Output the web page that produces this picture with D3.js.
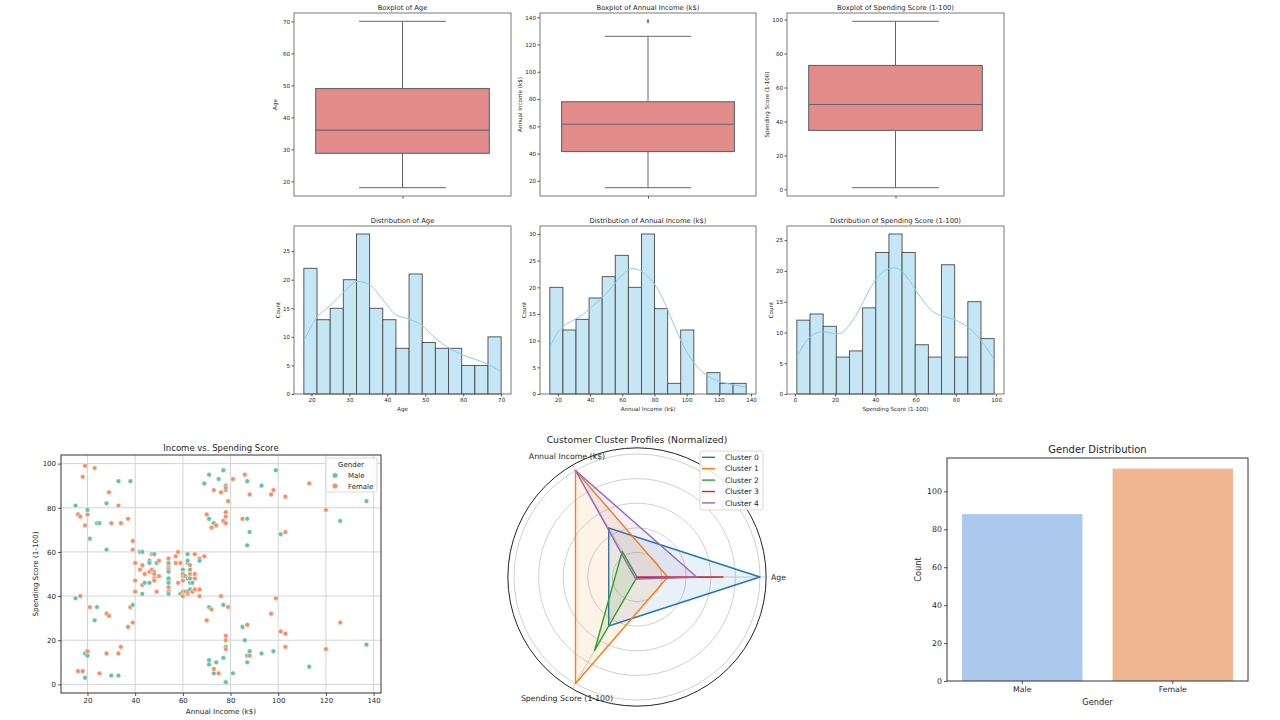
<!DOCTYPE html>
<html>
<head>
<meta charset="utf-8">
<script src="https://cdn.jsdelivr.net/npm/d3@7"></script>
<style>
  body { margin: 0; background: #fff; }
  svg { display: block; font-family: "DejaVu Sans", sans-serif; }
</style>
</head>
<body>
<svg id="fig" width="1280" height="720"></svg>
<script>
// ---- data ------------------------------------------------------------------
const ageBox = [18, 28.75, 36, 49, 70];
const incomeBox = [15, 41.5, 61.5, 78, 126];
const incomeFliers = [137];
const spendBox = [1, 34.75, 50, 73, 99];

const ageCounts = [22, 13, 15, 20, 28, 15, 13, 8, 21, 9, 8, 8, 5, 5, 10];
const incomeCounts = [20, 12, 14, 18, 22, 26, 20, 30, 16, 2, 12, 0, 4, 2, 2];
const spendCounts = [12, 13, 11, 6, 7, 14, 23, 26, 23, 8, 6, 21, 6, 15, 9];

const kdeAge = [[18, 9.3], [21.3, 13.3], [24.8, 15.4], [28.3, 17.7], [32.2, 19.7], [35.2, 19.2], [38.7, 16.6],
  [42.2, 13.9], [45.7, 13.1], [48.7, 12.2], [52.6, 9.8], [56.1, 8.1], [59.6, 6.9], [63, 6.1], [66.5, 5.2], [70, 3.9]];
const kdeIncome = [[15, 8.7], [19, 11.2], [24, 12.8], [30, 13.9], [36, 15.0], [42, 16.6], [48, 18.2], [54, 20.2],
  [60, 22.3], [66, 23.5], [70, 23.3], [75, 22.3], [80, 20.6], [85, 18.0], [90, 14.5], [95, 11.0], [100, 7.9],
  [105, 5.7], [110, 4.1], [116, 2.9], [122, 2.2], [128, 1.8], [133, 1.5], [137, 1.3]];
const kdeSpend = [[1, 5.9], [4, 7.8], [7, 9.1], [10, 9.8], [13.5, 10.1], [17, 10.0], [20, 9.8], [23, 9.9], [26, 10.8],
  [30, 12.6], [34, 15.0], [38, 17.5], [42, 19.3], [46, 20.3], [49.6, 20.5], [53, 20.0], [57, 18.4], [61, 16.4],
  [65, 14.6], [69, 13.3], [74, 12.6], [79, 12.1], [84, 11.3], [88, 10.3], [92, 8.9], [96, 7.1], [99, 5.5]];

const genderCodes = "MMFFFFFFMF" + "MFFFMMFMMF" + "MMFMFMFMFF" + "MFMMFFFFFF" + "FMMFFFFFFF" +
  "FMFMFMFMFM" + "MMFFMMFFMF" + "MFFFMMFMFF" + "MMMFFMFFFF" + "FMMFFMFFMM" +
  "FFMMMFFMMM" + "MFFMFFFFFF" + "MFFMFFMMMM" + "MMFFMFFMMF" + "FMFFMMMFFM" +
  "MMFFFFMFMF" + "FFMFMFMFFM" + "MMMMFFMMMM" + "FFMFFMFMFF" + "FFMFFFFMMM";
const income = [15, 15, 16, 16, 17, 17, 18, 18, 19, 19, 19, 19, 20, 20, 20, 20, 21, 21, 23, 23,
  24, 24, 25, 25, 28, 28, 28, 28, 29, 29, 30, 30, 33, 33, 33, 33, 34, 34, 37, 37,
  38, 38, 39, 39, 39, 39, 40, 40, 40, 40, 42, 42, 43, 43, 43, 43, 44, 44, 46, 46,
  46, 46, 47, 47, 48, 48, 48, 48, 48, 48, 49, 49, 50, 50, 54, 54, 54, 54, 54, 54,
  54, 54, 54, 54, 54, 54, 57, 57, 58, 58, 59, 59, 60, 60, 60, 60, 60, 60, 61, 61,
  62, 62, 62, 62, 62, 62, 63, 63, 63, 63, 63, 63, 64, 64, 65, 65, 65, 65, 67, 67,
  67, 67, 69, 69, 70, 70, 71, 71, 71, 71, 71, 71, 72, 72, 73, 73, 73, 73, 74, 74,
  75, 75, 76, 76, 77, 77, 77, 77, 78, 78, 78, 78, 78, 78, 78, 78, 78, 78, 78, 78,
  79, 79, 81, 81, 85, 85, 86, 86, 87, 87, 87, 87, 87, 87, 88, 88, 88, 88, 93, 93,
  97, 97, 98, 98, 99, 99, 101, 101, 103, 103, 103, 103, 113, 113, 120, 120, 126, 126, 137, 137];
const spending = [39, 81, 6, 77, 40, 76, 6, 94, 3, 72, 14, 99, 15, 77, 13, 79, 35, 66, 29, 98,
  35, 73, 5, 73, 14, 82, 32, 61, 31, 87, 4, 73, 4, 92, 14, 81, 17, 73, 26, 75,
  35, 92, 36, 61, 28, 65, 55, 47, 42, 42, 52, 60, 54, 60, 45, 41, 50, 46, 51, 46,
  56, 55, 52, 59, 51, 59, 50, 48, 59, 47, 55, 42, 49, 56, 47, 54, 53, 48, 52, 42,
  51, 55, 41, 44, 57, 46, 58, 55, 60, 46, 55, 41, 49, 40, 42, 52, 47, 50, 42, 49,
  41, 48, 59, 55, 56, 42, 50, 46, 43, 48, 52, 54, 42, 46, 48, 50, 43, 59, 43, 57,
  56, 40, 58, 91, 29, 77, 35, 95, 11, 75, 9, 75, 34, 71, 5, 88, 7, 73, 10, 72,
  5, 93, 40, 87, 12, 97, 36, 74, 22, 90, 17, 88, 20, 76, 16, 89, 1, 78, 1, 73,
  35, 83, 5, 93, 26, 75, 20, 95, 27, 63, 13, 75, 10, 92, 13, 86, 15, 69, 14, 90,
  32, 86, 15, 88, 39, 97, 24, 68, 17, 85, 23, 69, 8, 91, 16, 79, 28, 74, 18, 83];

const radarAxes = ["Age", "Annual Income (k$)", "Spending Score (1-100)"];
const clusterNames = ["Cluster 0", "Cluster 1", "Cluster 2", "Cluster 3", "Cluster 4"];
const clusterProfiles = [
  [1.0, 0.46, 0.46],
  [0.25, 1.0, 1.0],
  [0.0, 0.24, 0.69],
  [0.70, 0.0, 0.01],
  [0.485, 1.0, 0.02]
];

const genders = ["Male", "Female"];
const genderCounts = [88, 112];

// ---- helpers ----------------------------------------------------------------
const svg = d3.select("#fig");
const FONT = '"DejaVu Sans", sans-serif';
const INK = "#262626";

function styleAxis(sel, fs, tickCol) {
  sel.attr("font-family", FONT).attr("font-size", fs);
  sel.select(".domain").remove();
  sel.selectAll(".tick line").attr("stroke", tickCol || INK).attr("stroke-width", 0.8);
  sel.selectAll(".tick text").attr("fill", INK);
}

function frame(g, x0, y0, x1, y1, col, w) {
  g.append("rect").attr("x", x0).attr("y", y0).attr("width", x1 - x0).attr("height", y1 - y0)
    .attr("fill", "none").attr("stroke", col).attr("stroke-width", w || 1);
}

function label(g, x, y, txt, fs, rot, anchor) {
  const t = g.append("text").attr("x", x).attr("y", y).attr("font-size", fs).attr("fill", INK)
    .attr("text-anchor", anchor || "middle").text(txt);
  if (rot) t.attr("transform", `rotate(-90,${x},${y})`);
  return t;
}

// ---- top row: boxplots -----------------------------------------------------
const cols = [[294, 511], [540, 756], [787, 1004]];

function boxPanel(col, spec) {
  const [x0, x1] = col, y0 = 13, y1 = 196;
  const g = svg.append("g");
  const x = d3.scaleLinear().domain([-0.5, 0.5]).range([x0, x1]);
  const y = d3.scaleLinear().domain(spec.dom).range([y1, y0]);
  const [lo, q1, med, q3, hi] = spec.box;
  const c = "#666";

  g.append("line").attr("x1", x(0)).attr("x2", x(0)).attr("y1", y(q1)).attr("y2", y(lo)).attr("stroke", c);
  g.append("line").attr("x1", x(0)).attr("x2", x(0)).attr("y1", y(q3)).attr("y2", y(hi)).attr("stroke", c);
  [lo, hi].forEach((v) => g.append("line").attr("x1", x(-0.2)).attr("x2", x(0.2))
    .attr("y1", y(v)).attr("y2", y(v)).attr("stroke", c));
  g.append("rect").attr("x", x(-0.4)).attr("y", y(q3)).attr("width", x(0.4) - x(-0.4))
    .attr("height", y(q1) - y(q3)).attr("fill", "#e28c8c").attr("stroke", c).attr("stroke-width", 1.1);
  g.append("line").attr("x1", x(-0.4)).attr("x2", x(0.4)).attr("y1", y(med)).attr("y2", y(med))
    .attr("stroke", c).attr("stroke-width", 1.1);
  g.selectAll(".flier").data(spec.fliers || []).join("path").attr("class", "flier")
    .attr("d", d3.symbol(d3.symbolDiamond, 9)).attr("transform", (d) => `translate(${x(0)},${y(d)}) scale(0.7,1)`)
    .attr("fill", c);

  g.append("g").attr("transform", `translate(${x0},0)`)
    .call(d3.axisLeft(y).tickValues(spec.ticks).tickSize(2.5).tickPadding(1.5)).call(styleAxis, 5.6);
  g.append("g").attr("transform", `translate(0,${y1})`)
    .call(d3.axisBottom(x).tickValues([0]).tickSize(2.5).tickFormat("")).call(styleAxis, 5.6);
  frame(g, x0, y0, x1, y1, "#6a6a6a", 0.9);
  label(g, (x0 + x1) / 2, 10.3, spec.title, 6.8);
  label(g, x0 + spec.yl, (y0 + y1) / 2, spec.ylabel, 5.6, true);
}

boxPanel(cols[0], { box: ageBox, dom: [15.4, 72.6], ticks: d3.range(20, 71, 10), title: "Boxplot of Age", ylabel: "Age", yl: -17.5 });
boxPanel(cols[1], { box: incomeBox, fliers: incomeFliers, dom: [8.9, 143.1], ticks: d3.range(20, 141, 20),
  title: "Boxplot of Annual Income (k$)", ylabel: "Annual Income (k$)", yl: -18 });
boxPanel(cols[2], { box: spendBox, dom: [-3.9, 103.9], ticks: d3.range(0, 101, 20),
  title: "Boxplot of Spending Score (1-100)", ylabel: "Spending Score (1-100)", yl: -18 });

// ---- second row: histograms -------------------------------------------------
function histPanel(col, spec) {
  const [x0, x1] = col, y0 = 226, y1 = 394;
  const g = svg.append("g");
  const x = d3.scaleLinear().domain(spec.dom).range([x0, x1]);
  const y = d3.scaleLinear().domain([0, d3.max(spec.counts) * 1.05]).range([y1, y0]);
  const w = (spec.range[1] - spec.range[0]) / spec.counts.length;
  const bins = spec.counts.map((n, i) => ({ a: spec.range[0] + i * w, b: spec.range[0] + (i + 1) * w, n }));

  g.selectAll(".bar").data(bins.filter((d) => d.n > 0)).join("rect").attr("class", "bar")
    .attr("x", (d) => x(d.a)).attr("width", (d) => x(d.b) - x(d.a))
    .attr("y", (d) => y(d.n)).attr("height", (d) => y1 - y(d.n))
    .attr("fill", "#c4e6f5").attr("stroke", "#4a4a4a").attr("stroke-width", 0.9);
  g.append("path").datum(spec.kde).attr("fill", "none").attr("stroke", "#87ceeb").attr("stroke-width", 1)
    .attr("d", d3.line().x((d) => x(d[0])).y((d) => y(d[1])).curve(d3.curveMonotoneX));

  g.append("g").attr("transform", `translate(${x0},0)`)
    .call(d3.axisLeft(y).tickValues(spec.yticks).tickSize(2.5).tickPadding(1.5)).call(styleAxis, 5.6);
  g.append("g").attr("transform", `translate(0,${y1})`)
    .call(d3.axisBottom(x).tickValues(spec.xticks).tickSize(2.5).tickPadding(1.5)).call(styleAxis, 5.6);
  frame(g, x0, y0, x1, y1, "#6a6a6a", 0.9);
  label(g, (x0 + x1) / 2, 223, spec.title, 6.8);
  label(g, (x0 + x1) / 2, 411, spec.xlabel, 5.6);
  label(g, x0 - 14.5, (y0 + y1) / 2, "Count", 5.6, true);
}

histPanel(cols[0], { counts: ageCounts, range: [18, 70], dom: [15.4, 72.6], kde: kdeAge,
  xticks: d3.range(20, 71, 10), yticks: d3.range(0, 26, 5), title: "Distribution of Age", xlabel: "Age" });
histPanel(cols[1], { counts: incomeCounts, range: [15, 137], dom: [8.9, 143.1], kde: kdeIncome,
  xticks: d3.range(20, 141, 20), yticks: d3.range(0, 31, 5), title: "Distribution of Annual Income (k$)", xlabel: "Annual Income (k$)" });
histPanel(cols[2], { counts: spendCounts, range: [1, 99], dom: [-3.9, 103.9], kde: kdeSpend,
  xticks: d3.range(0, 101, 20), yticks: d3.range(0, 26, 5), title: "Distribution of Spending Score (1-100)", xlabel: "Spending Score (1-100)" });

// ---- bottom left: scatter ---------------------------------------------------
(function () {
  const x0 = 61, x1 = 381, y0 = 455, y1 = 693;
  const g = svg.append("g");
  const x = d3.scaleLinear().domain([8.9, 143.1]).range([x0, x1]);
  const y = d3.scaleLinear().domain([-3.9, 103.9]).range([y1, y0]);
  const color = d3.scaleOrdinal().domain(["M", "F"]).range(["#66c2a5", "#fc8d62"]);
  const xt = d3.range(20, 141, 20), yt = d3.range(0, 101, 20);

  g.selectAll(".gx").data(xt).join("line").attr("x1", x).attr("x2", x).attr("y1", y0).attr("y2", y1)
    .attr("stroke", "#d4d4d4").attr("stroke-width", 1);
  g.selectAll(".gy").data(yt).join("line").attr("y1", y).attr("y2", y).attr("x1", x0).attr("x2", x1)
    .attr("stroke", "#d4d4d4").attr("stroke-width", 1);

  g.selectAll(".pt").data(income).join("circle").attr("class", "pt")
    .attr("cx", (d) => x(d)).attr("cy", (d, i) => y(spending[i])).attr("r", 2.4)
    .attr("fill", (d, i) => color(genderCodes[i])).attr("stroke", "#fff").attr("stroke-width", 0.5);

  g.append("g").attr("transform", `translate(${x0},0)`)
    .call(d3.axisLeft(y).tickValues(yt).tickSize(3).tickPadding(2)).call(styleAxis, 7);
  g.append("g").attr("transform", `translate(0,${y1})`)
    .call(d3.axisBottom(x).tickValues(xt).tickSize(3).tickPadding(2)).call(styleAxis, 7);
  frame(g, x0, y0, x1, y1, "#333", 1);
  label(g, (x0 + x1) / 2, 450.5, "Income vs. Spending Score", 8.5);
  label(g, (x0 + x1) / 2, 713.5, "Annual Income (k$)", 7.2);
  label(g, 37.5, (y0 + y1) / 2, "Spending Score (1-100)", 7.2, true);

  const lg = g.append("g");
  lg.append("rect").attr("x", 326).attr("y", 458).attr("width", 51).attr("height", 34).attr("rx", 2)
    .attr("fill", "#fff").attr("fill-opacity", 0.85).attr("stroke", "#d0d0d0").attr("stroke-width", 0.8);
  label(lg, 351, 467, "Gender", 7);
  genders.forEach((name, i) => {
    lg.append("circle").attr("cx", 335).attr("cy", 475.5 + i * 10.5).attr("r", 2.8)
      .attr("fill", color(name[0])).attr("stroke", "#fff").attr("stroke-width", 0.5);
    label(lg, 348, 478 + i * 10.5, name, 7, false, "start");
  });
})();

// ---- bottom middle: radar ---------------------------------------------------
(function () {
  const cx = 637, cy = 577;
  const g = svg.append("g");
  const r = d3.scaleLinear().domain([0, 1]).range([0, 123]);
  const ang = radarAxes.map((d, i) => (i * 2 * Math.PI) / radarAxes.length);
  const pt = (i, v) => [cx + r(v) * Math.cos(ang[i]), cy - r(v) * Math.sin(ang[i])];
  const colors = ["#1f77b4", "#ff7f0e", "#2ca02c", "#d62728", "#9467bd"];

  g.selectAll(".ring").data([0.2, 0.4, 0.6, 0.8, 1.0]).join("circle").attr("cx", cx).attr("cy", cy)
    .attr("r", (d) => r(d)).attr("fill", "none").attr("stroke", "#d0d0d0").attr("stroke-width", 1);
  g.selectAll(".spoke").data(ang).join("line").attr("x1", cx).attr("y1", cy)
    .attr("x2", (a) => cx + r(1.05) * Math.cos(a)).attr("y2", (a) => cy - r(1.05) * Math.sin(a))
    .attr("stroke", "#d0d0d0").attr("stroke-width", 1);
  g.append("circle").attr("cx", cx).attr("cy", cy).attr("r", r(1.05)).attr("fill", "none")
    .attr("stroke", "#222").attr("stroke-width", 1);

  const line = d3.line().curve(d3.curveLinearClosed);
  clusterProfiles.forEach((vals, k) => {
    const pts = vals.map((v, i) => pt(i, v));
    g.append("path").attr("d", line(pts)).attr("fill", colors[k]).attr("fill-opacity", 0.1).attr("stroke", "none");
    g.append("path").attr("d", line(pts)).attr("fill", "none").attr("stroke", colors[k])
      .attr("stroke-width", 1.4).attr("stroke-linejoin", "round");
  });

  label(g, cx + 134, cy + 3, radarAxes[0], 7.8, false, "start");
  [1, 2].forEach((i) => label(g, cx + 140 * Math.cos(ang[i]), cy - 140 * Math.sin(ang[i]) + 3, radarAxes[i], 7.8));
  label(g, cx, 442.5, "Customer Cluster Profiles (Normalized)", 9.3);

  const lg = g.append("g");
  lg.append("rect").attr("x", 700).attr("y", 451).attr("width", 63).attr("height", 59).attr("rx", 2)
    .attr("fill", "#fff").attr("fill-opacity", 0.85).attr("stroke", "#d0d0d0").attr("stroke-width", 0.8);
  clusterNames.forEach((name, k) => {
    const yy = 457.3 + k * 11.4;
    lg.append("line").attr("x1", 702).attr("x2", 715).attr("y1", yy).attr("y2", yy)
      .attr("stroke", colors[k]).attr("stroke-width", 1.4);
    label(lg, 725, yy + 2.7, name, 7.5, false, "start");
  });
})();

// ---- bottom right: gender counts ----------------------------------------------
(function () {
  const x0 = 947, x1 = 1248, y0 = 458, y1 = 681;
  const g = svg.append("g");
  const x = d3.scaleBand().domain(genders).range([x0, x1]).paddingInner(0.2).paddingOuter(0.1);
  const y = d3.scaleLinear().domain([0, d3.max(genderCounts) * 1.05]).range([y1, y0]);
  const fills = ["#abc9ec", "#f0b591"];

  g.selectAll(".gbar").data(genders).join("rect").attr("class", "gbar")
    .attr("x", (d) => x(d)).attr("width", x.bandwidth())
    .attr("y", (d, i) => y(genderCounts[i])).attr("height", (d, i) => y1 - y(genderCounts[i]))
    .attr("fill", (d, i) => fills[i]);

  g.append("g").attr("transform", `translate(${x0},0)`)
    .call(d3.axisLeft(y).tickValues(d3.range(0, 101, 20)).tickSize(3).tickPadding(2)).call(styleAxis, 7.8);
  g.append("g").attr("transform", `translate(0,${y1})`)
    .call(d3.axisBottom(x).tickSize(3).tickPadding(2)).call(styleAxis, 7.8);
  frame(g, x0, y0, x1, y1, "#333", 1);
  label(g, (x0 + x1) / 2, 453, "Gender Distribution", 10);
  label(g, (x0 + x1) / 2, 704.5, "Gender", 8.3);
  label(g, 921, (y0 + y1) / 2, "Count", 8.3, true);
})();
</script>
</body>
</html>
